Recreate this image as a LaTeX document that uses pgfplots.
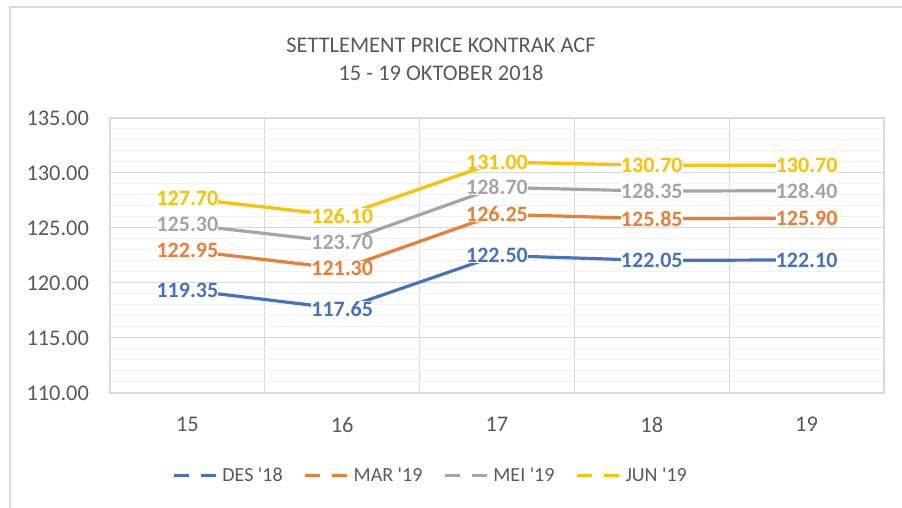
\documentclass[border=0pt]{standalone}
\usepackage{pgfplots}
\pgfplotsset{compat=1.18}
\usepackage{fontspec}
\setmainfont{Carlito}
\definecolor{cDes}{HTML}{4472C4}
\definecolor{cMar}{HTML}{ED7D31}
\definecolor{cMei}{HTML}{A5A5A5}
\definecolor{cJun}{HTML}{FFC000}
\definecolor{cText}{HTML}{595959}
\definecolor{cGrid}{HTML}{D9D9D9}
\definecolor{cMinor}{HTML}{F2F2F2}
\pgfplotsset{
  ser/.style={draw=#1, line width=1.6pt, mark=none,
    nodes near coords={\pgfmathprintnumber[fixed,fixed zerofill,precision=2,assume math mode=true]{\pgfplotspointmeta}},
    every node near coord/.append style={text=#1},
    legend image code/.code={\draw[draw=#1, line width=1.5pt, dash pattern=on 7.5pt off 6pt] (0pt,0pt) -- (21.5pt,0pt);}},
}
\begin{document}
\begin{tikzpicture}
\useasboundingbox (0,0) rectangle (451pt,254pt);
\draw[draw=cGrid, line width=0.75pt] (5pt,0pt) -- (5pt,250.5pt) -- (451pt,250.5pt);
\node[align=center, font=\fontsize{11.2}{14}\selectfont, text=cText] at (220.5pt,224.5pt) {SETTLEMENT PRICE KONTRAK ACF\\15 - 19 OKTOBER 2018};
\begin{axis}[
  at={(55pt,57.5pt)}, anchor=south west,
  width=387pt, height=137.5pt, scale only axis,
  xmin=14.5, xmax=19.5, ymin=110, ymax=135,
  xtick={15,16,17,18,19},
  minor xtick={15.5,16.5,17.5,18.5},
  ytick={110,115,120,125,130,135},
  minor y tick num=4,
  major tick length=0pt, minor tick length=0pt,
  xmajorgrids=false, xminorgrids=true, ymajorgrids=true, yminorgrids=true,
  minor x grid style={cGrid, line width=0.5pt},
  major y grid style={cGrid, line width=0.5pt},
  minor y grid style={cMinor, line width=0.5pt},
  axis line style={cGrid, line width=0.6pt},
  /pgf/number format/assume math mode=true,
  tick label style={font=\fontsize{11.2}{13}\selectfont, text=cText},
  yticklabel={\pgfmathprintnumber[fixed,fixed zerofill,precision=2]{\tick}},
  yticklabel style={xshift=-7pt},
  xticklabel style={yshift=-8.5pt},
  every node near coord/.style={anchor=center, fill=white, inner sep=0pt, font=\bfseries\fontsize{11}{13}\selectfont},
  clip=false,
  legend columns=-1,
  legend style={at={(0.0801,-0.3018)}, anchor=west, draw=none, fill=none, inner sep=0pt,
    font=\fontsize{10}{12}\selectfont, text=cText,
    /tikz/every even column/.append style={column sep=8.5pt}},
]
\addplot[ser=cDes] coordinates {(15,119.35) (16,117.65) (17,122.50) (18,122.05) (19,122.10)};
\addlegendentry{DES \textquotesingle18}
\addplot[ser=cMar] coordinates {(15,122.95) (16,121.30) (17,126.25) (18,125.85) (19,125.90)};
\addlegendentry{MAR \textquotesingle19}
\addplot[ser=cMei] coordinates {(15,125.30) (16,123.70) (17,128.70) (18,128.35) (19,128.40)};
\addlegendentry{MEI \textquotesingle19}
\addplot[ser=cJun] coordinates {(15,127.70) (16,126.10) (17,131.00) (18,130.70) (19,130.70)};
\addlegendentry{JUN \textquotesingle19}
\end{axis}
\end{tikzpicture}
\end{document}
